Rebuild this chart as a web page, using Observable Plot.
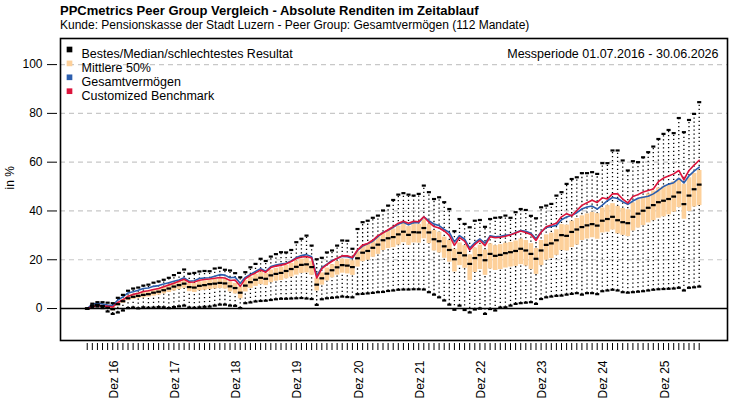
<!DOCTYPE html>
<html>
<head>
<meta charset="utf-8">
<script src="https://cdn.jsdelivr.net/npm/d3@7"></script>
<script src="https://cdn.jsdelivr.net/npm/@observablehq/plot@0.6"></script>
<style>
  body { margin: 0; background: white; font-family: "Liberation Sans", Arial, sans-serif; }
  #titel { padding: 3px 0 0 60px; font-size: 13px; font-weight: bold; line-height: 15px; color: #000; }
  #untertitel { padding-left: 60px; font-size: 12px; line-height: 14px; color: #000; height: 18px; }
</style>
</head>
<body>
<div id="titel">PPCmetrics Peer Group Vergleich - Absolute Renditen im Zeitablauf</div>
<div id="untertitel">Kunde: Pensionskasse der Stadt Luzern - Peer Group: Gesamtvermögen (112 Mandate)</div>
<div id="chart"></div>
<script>
// Monatswerte Jun 16 .. Jun 26 (kumulierte Rendite in %)
const bestes = [0,2.0,2.6,2.6,2.4,2.2,4.4,5.6,7.3,8.2,8.6,9.4,
  9.8,10.6,11.1,11.8,12.6,13.7,14.6,16.0,14.3,14.6,15.2,15.4,
  15.3,16.4,16.7,15.9,15.6,14.5,12.8,14.9,16.9,18.3,20.4,19.5,
  21.3,22.3,23.1,23.0,24.0,27.2,28.6,29.9,25.8,20.2,20.8,23.0,
  23.8,25.8,27.9,27.8,24.5,32.6,35.4,36.0,37.2,38.1,40.2,42.2,
  44.5,46.7,47.3,46.7,46.3,47.0,50.4,47.7,44.9,45.6,43.6,40.8,
  31.7,36.7,34.7,33.3,36.0,36.3,33.5,36.7,37.2,37.4,38.1,37.2,
  39.5,40.8,40.4,38.0,37.0,41.5,42.2,42.9,46.3,47.7,51.1,53.1,
  53.8,55.5,55.5,55.9,55.2,59.6,59.6,64.8,64.8,60.7,56.6,60.4,
  60.0,62.0,64.1,66.4,69.5,71.6,73.2,71.9,78.1,72.3,77.3,79.8,
  84.6]
const q3 = [0,1.5,1.9,1.5,0.9,0.4,2.6,3.8,5.1,5.8,6.3,6.8,
  7.1,7.8,8.3,8.9,9.7,10.4,11.1,11.8,10.4,10.3,11.0,11.3,
  11.6,12.0,12.4,12.1,10.9,10.3,8.9,11.5,12.9,14.0,14.9,14.4,
  15.8,16.5,16.9,17.7,18.5,19.5,20.3,20.6,19.4,12.4,14.6,16.6,
  18.0,19.3,20.3,20.2,19.6,23.3,25.7,26.5,27.9,29.3,31.2,32.0,
  32.6,33.8,34.8,33.6,34.6,34.5,36.3,34.6,32.0,31.3,29.3,27.9,
  24.3,26.9,25.8,22.0,24.8,26.0,24.0,26.5,25.8,26.2,26.8,27.1,
  27.7,28.5,27.9,26.6,24.6,27.9,30.2,30.9,32.3,34.4,34.2,35.8,
  36.9,38.0,38.8,39.4,38.9,41.2,42.2,43.0,41.9,41.0,40.5,43.3,
  44.6,45.8,47.0,48.2,49.4,50.1,50.8,52.0,53.2,51.0,53.6,55.4,
  56.6]
const median = [0,1.2,1.5,1.0,0.3,-0.3,1.8,3.0,4.2,4.8,5.2,5.6,
  5.9,6.5,6.9,7.5,8.2,9.0,9.6,10.2,8.8,8.6,9.3,9.6,
  10.0,10.2,10.5,10.3,9.1,8.4,6.5,9.4,10.8,11.8,12.6,12.2,
  13.6,14.2,14.6,15.4,16.2,17.1,17.9,18.1,17.0,9.8,12.4,14.3,
  15.7,16.9,17.8,17.6,17.0,20.6,22.9,23.6,24.9,26.2,28.0,28.8,
  29.3,30.4,31.5,30.2,31.3,31.2,33.0,31.2,28.4,27.6,25.5,24.0,
  20.2,22.8,21.8,18.3,20.7,21.9,19.8,22.4,21.6,22.0,22.7,23.1,
  23.6,24.5,23.8,22.4,20.4,23.8,26.1,26.7,28.0,30.1,29.8,31.4,
  32.4,33.4,34.1,34.6,34.0,36.0,36.7,37.6,36.2,35.4,35.0,37.6,
  38.9,40.1,41.3,42.4,43.6,44.2,44.9,45.9,47.6,42.8,46.3,48.9,
  50.8]
const q1 = [0,0.9,1.1,0.6,-0.2,-0.9,1.0,2.1,3.2,3.7,4.1,4.4,
  4.7,5.1,5.5,6.0,6.6,7.2,7.8,8.3,6.9,6.6,7.3,7.5,
  7.8,8.0,8.2,8.0,6.8,6.0,4.0,6.8,8.2,9.1,9.8,9.4,
  10.6,11.2,11.5,12.2,12.9,13.7,14.4,14.6,13.6,7.2,9.6,11.3,
  12.6,13.7,14.5,14.2,13.6,17.0,19.2,19.8,21.0,22.2,23.8,24.6,
  25.0,26.0,27.0,25.9,26.9,26.8,28.6,26.6,23.6,22.8,20.6,19.0,
  15.0,17.6,16.5,11.5,14.8,16.0,13.6,16.2,15.6,16.0,16.6,17.0,
  17.3,18.0,17.4,16.0,14.0,17.6,19.8,20.5,21.8,23.8,23.6,25.0,
  26.0,27.9,28.5,29.0,28.4,31.0,31.3,32.2,30.6,30.0,29.5,31.8,
  33.0,34.0,35.1,36.0,37.0,37.6,38.4,39.5,41.4,36.6,39.8,41.6,
  42.2]
const schlechtestes = [0,0.6,0.8,0.2,-1.2,-2.2,-1.6,-0.8,0.2,0.4,0.1,0.5,
  0.3,0.4,0.6,0.5,0.2,0.6,0.9,1.2,0.4,0.3,0.5,0.7,
  0.8,1.2,1.6,1.6,1.2,1.1,0.2,2.2,2.5,2.9,3.1,3.2,
  3.5,3.8,4.0,4.0,4.1,4.2,4.3,4.1,3.9,1.5,3.8,4.2,
  4.4,4.6,4.9,4.7,4.6,5.9,6.0,6.2,6.4,6.7,6.8,7.2,
  7.4,7.7,7.8,7.8,7.9,7.9,7.8,6.7,5.7,4.6,3.3,1.6,
  -0.5,1.2,-0.6,-1.6,-0.4,0.0,-2.2,-0.2,-0.8,0.4,0.5,1.2,
  1.9,2.2,2.4,2.6,1.9,3.9,4.6,4.9,5.2,5.3,5.7,6.0,
  6.3,5.7,6.3,6.3,5.9,7.1,7.4,7.7,7.4,6.7,6.5,6.7,
  6.9,7.1,7.4,7.7,7.9,8.0,8.1,8.2,8.5,7.4,8.5,8.7,
  9.0]
const gesamtvermoegen = [0,1.8,2.1,1.9,1.4,1.2,3.5,4.8,6.4,6.9,7.5,8.2,
  8.4,9.1,9.4,10.1,10.6,11.2,11.7,12.6,11.2,11.4,12.3,12.5,
  12.6,13.2,13.9,13.7,12.6,12.8,10.4,12.8,14.0,15.2,16.3,15.3,
  17.2,17.8,18.2,18.6,19.5,20.9,21.7,22.1,21.2,13.5,16.8,18.2,
  19.7,20.5,21.4,21.2,20.6,23.8,25.6,26.6,27.6,29.5,31.2,32.1,
  33.3,34.6,35.4,34.3,35.3,35.2,37.6,36.0,34.6,34.0,32.4,31.2,
  27.3,29.9,28.4,24.8,27.0,28.5,26.8,29.8,29.4,29.6,30.0,30.3,
  31.1,32.0,31.7,30.9,28.6,31.4,33.2,33.6,34.1,36.4,37.5,38.2,
  39.3,40.8,41.6,42.0,40.8,42.4,44.2,45.5,45.1,43.8,42.7,44.1,
  45.2,45.6,46.0,47.0,48.4,50.0,51.0,51.6,53.4,51.5,54.4,56.3,
  58.0]
const benchmark = [0,0.8,1.2,1.1,0.9,0.6,2.5,3.6,5.0,5.8,6.3,7.0,
  7.3,7.8,8.2,8.9,9.7,10.4,11.2,12.0,10.8,10.9,11.6,11.9,
  12.1,12.4,12.7,12.5,11.5,11.7,9.1,12.2,13.6,14.6,15.8,14.9,
  16.8,17.4,17.8,18.3,19.3,20.5,21.1,21.3,20.7,12.5,16.4,18.0,
  19.4,20.6,21.6,21.6,20.9,24.0,26.0,26.7,28.0,29.9,31.0,32.3,
  33.6,35.0,35.8,35.0,35.8,35.6,37.6,35.4,33.6,33.0,31.8,30.0,
  25.9,29.1,27.6,24.0,26.3,27.9,25.8,29.4,29.0,29.2,29.6,30.2,
  31.0,31.8,31.2,30.4,27.9,31.3,33.5,34.2,35.0,37.6,38.9,38.0,
  40.2,42.3,43.4,44.4,43.5,45.4,44.9,47.0,47.0,44.9,43.3,45.9,
  46.7,47.8,48.4,49.0,52.0,53.5,54.3,55.2,56.6,52.8,56.6,58.8,
  60.8]

const tickLabels = ["Dez 16","Dez 17","Dez 18","Dez 19","Dez 20","Dez 21","Dez 22","Dez 23","Dez 24","Dez 25"]
const tickMonat = [6,18,30,42,54,66,78,90,102,114]
const legendeText = ["Bestes/Median/schlechtestes Resultat","Mittlere 50%","Gesamtvermögen","Customized Benchmark"]
const yTicks = [0,20,40,60,80,100]

const orange = "#fdd09a", blau = "#2c5eae", rot = "#dc143c"
const legendeFarben = ["black", orange, blau, rot]

const data = median.map((m, i) => ({
  i, m, best: bestes[i], worst: schlechtestes[i], lo: q1[i], hi: q3[i],
  gv: gesamtvermoegen[i], bm: benchmark[i]
}))
const monate = data.map(d => d.i)

const dash = (y, w) => Plot.link(data, {
  x1: d => d.i - w, x2: d => d.i + w, y1: y, y2: y,
  stroke: "black", strokeWidth: 2.2, strokeLinecap: "butt"
})

let chart = Plot.plot({
  width: 739,
  height: 370,
  marginTop: 2,
  marginBottom: 66,
  marginLeft: 60,
  marginRight: 12,
  style: {fontFamily: "Liberation Sans, Arial, sans-serif", fontSize: "12px", color: "black"},
  x: {type: "linear", domain: [-5.24, 125.55], axis: null},
  y: {domain: [-13.1, 110.7], axis: null},
  marks: [
    Plot.gridY(yTicks.filter(t => t > 0), {stroke: "#c8c8c8", strokeOpacity: 1, strokeDasharray: "5,4", strokeWidth: 1.2}),
    Plot.axisY(yTicks, {tickSize: 10, dx: -3, tickPadding: 5, label: null, fontSize: 12}),
    Plot.axisX(monate, {tickSize: 7, dy: 3, tickFormat: () => "", label: null}),
    Plot.text(tickLabels, {x: (d, k) => tickMonat[k], frameAnchor: "bottom", dy: 20, rotate: -90, textAnchor: "end", fontSize: 12}),
    Plot.text(["in %"], {frameAnchor: "left", dx: -50, rotate: -90, fontSize: 12}),
    Plot.ruleX(data, {x: "i", y1: "worst", y2: "best", stroke: "black", strokeWidth: 1.3, strokeDasharray: "1.3,2.7"}),
    Plot.ruleX(data, {x: "i", y1: "lo", y2: "hi", stroke: orange, strokeWidth: 4.6}),
    Plot.ruleY([0], {stroke: "black", strokeWidth: 1.5}),
    Plot.line(data, {x: "i", y: "gv", stroke: blau, strokeWidth: 1.6}),
    Plot.line(data, {x: "i", y: "bm", stroke: rot, strokeWidth: 1.6}),
    dash("best", 0.4),
    dash("worst", 0.4),
    dash("m", 0.47),
    ...legendeText.map((t, k) => Plot.dot([t], {frameAnchor: "top-left", dx: 9, dy: 11 + 13.9 * k, symbol: "square", r: 3.2, fill: legendeFarben[k], stroke: null})),
    ...legendeText.map((t, k) => Plot.text([t], {frameAnchor: "top-left", dx: 21, dy: 11 + 13.9 * k, textAnchor: "start", fontSize: 12.5})),
    Plot.text(["Messperiode 01.07.2016 - 30.06.2026"], {frameAnchor: "top-right", dx: -9, dy: 11, textAnchor: "end", fontSize: 12.5}),
    Plot.frame({stroke: "black", strokeWidth: 1.6})
  ]
})

d3.select('#chart').append(() => chart)
</script>
</body>
</html>
